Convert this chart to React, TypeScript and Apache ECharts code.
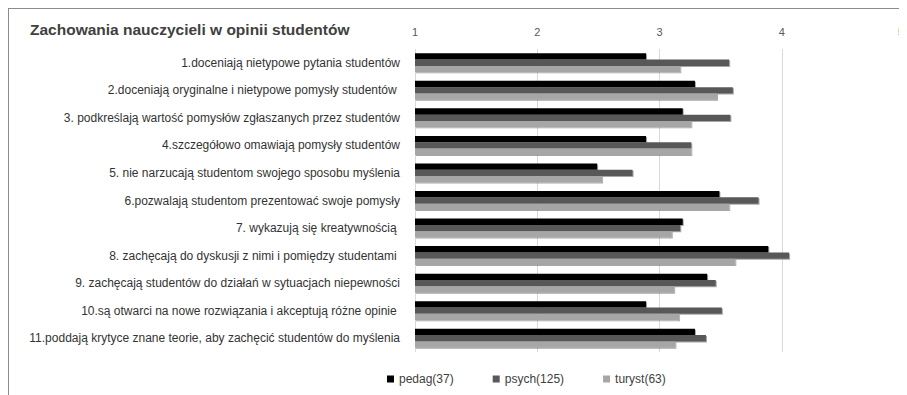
import React, { useEffect, useRef } from "react";
import * as echarts from "echarts";

const title = "Zachowania nauczycieli w opinii studentów";
const categories = [
  "1.doceniają nietypowe pytania studentów",
  "2.doceniają oryginalne i nietypowe pomysły studentów ",
  "3. podkreślają wartość pomysłów zgłaszanych przez studentów",
  "4.szczegółowo omawiają pomysły studentów",
  "5. nie narzucają studentom swojego sposobu myślenia",
  "6.pozwalają studentom prezentować swoje pomysły",
  "7. wykazują się kreatywnością ",
  "8. zachęcają do dyskusji z nimi i pomiędzy studentami ",
  "9. zachęcają studentów do działań w sytuacjach niepewności",
  "10.są otwarci na nowe rozwiązania i akceptują różne opinie ",
  "11.poddają krytyce znane teorie, aby zachęcić studentów do myślenia",
];
const seriesNames = ["pedag(37)", "psych(125)", "turyst(63)"];
const pedag = [2.89, 3.29, 3.19, 2.89, 2.49, 3.49, 3.19, 3.89, 3.39, 2.89, 3.29];
const psych = [3.57, 3.6, 3.58, 3.26, 2.78, 3.81, 3.17, 4.06, 3.46, 3.51, 3.38];
const turyst = [3.17, 3.47, 3.26, 3.26, 2.53, 3.57, 3.1, 3.62, 3.12, 3.16, 3.13];
const colors = ["#000000", "#595959", "#a6a6a6"];

export default function App() {
  const ref = useRef<HTMLDivElement>(null);
  useEffect(() => {
    if (!ref.current) return;
    const chart = echarts.init(ref.current, undefined, { renderer: "svg" });
    const font = "'Liberation Sans', Arial, sans-serif";
    const data = [pedag, psych, turyst];
    chart.setOption({
      animation: false,
      textStyle: { fontFamily: font },
      title: {
        text: title,
        left: 16,
        top: 7,
        textStyle: { fontSize: 15.5, fontWeight: "bold", color: "#404040", fontFamily: font },
      },
      legend: {
        bottom: 5,
        left: 373,
        itemWidth: 7,
        itemHeight: 7,
        itemGap: 39,
        icon: "rect",
        textStyle: { fontSize: 12, color: "#404040", fontFamily: font },
        data: seriesNames,
      },
      grid: { left: 406, right: 2, top: 40, bottom: 43, containLabel: false },
      xAxis: {
        type: "value",
        position: "top",
        min: 1,
        max: 5,
        interval: 1,
        axisLine: { show: false },
        axisTick: { show: false },
        axisLabel: { color: "#595959", fontSize: 11, margin: 12, alignMaxLabel: "right" },
        splitLine: { show: true, lineStyle: { color: "#d9d9d9", width: 1 } },
      },
      yAxis: {
        type: "category",
        inverse: true,
        data: categories,
        axisLine: { show: false },
        axisTick: { show: false },
        axisLabel: { color: "#333333", fontSize: 12, margin: 15 },
      },
      series: data.map((d, i) => ({
        name: seriesNames[i],
        type: "bar",
        data: d,
        barGap: "0%",
        barCategoryGap: "31%",
        itemStyle: {
          color: colors[i],
          shadowColor: "rgba(0,0,0,0.35)",
          shadowBlur: 1,
          shadowOffsetX: 1,
          shadowOffsetY: 1,
        },
      })),
    });
    return () => chart.dispose();
  }, []);
  return (
    <div
      ref={ref}
      style={{
        width: 899,
        height: 387,
        borderLeft: "1px solid #8c8c8c",
        borderTop: "1px solid #8c8c8c",
        boxSizing: "border-box",
      }}
    />
  );
}
